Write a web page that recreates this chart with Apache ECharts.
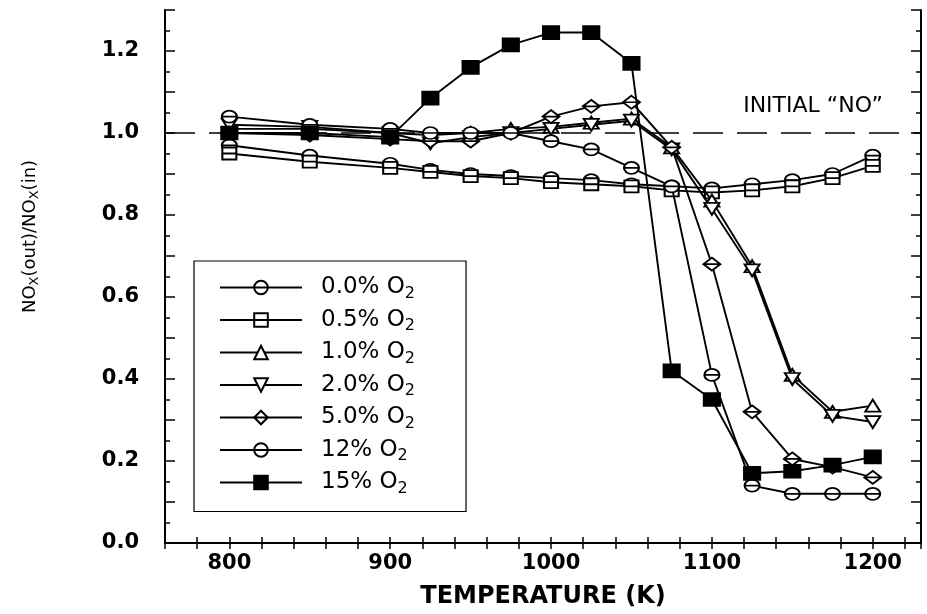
<!DOCTYPE html>
<html><head><meta charset="utf-8">
<script src="https://cdn.jsdelivr.net/npm/echarts@6/dist/echarts.min.js"></script>
<style>html,body{margin:0;padding:0;background:#fff}#c{width:927px;height:614px}</style>
</head><body><div id="c"></div>
<script>
// ---- data ----
const temperatures = [800, 850, 900, 925, 950, 975, 1000, 1025, 1050, 1075, 1100, 1125, 1150, 1175, 1200];
const o2_00 = [0.97, 0.945, 0.925, 0.91, 0.90, 0.895, 0.89, 0.885, 0.875, 0.87, 0.865, 0.875, 0.885, 0.90, 0.945];
const o2_05 = [0.95, 0.93, 0.915, 0.905, 0.895, 0.89, 0.88, 0.875, 0.87, 0.86, 0.855, 0.86, 0.87, 0.89, 0.92];
const o2_10 = [1.01, 1.01, 1.0, 0.995, 1.0, 1.01, 1.015, 1.025, 1.035, 0.965, 0.835, 0.675, 0.41, 0.32, 0.335];
const o2_20 = [1.02, 1.015, 1.0, 0.975, 0.99, 1.0, 1.01, 1.02, 1.03, 0.96, 0.815, 0.665, 0.40, 0.31, 0.295];
const o2_50 = [1.0, 0.995, 0.985, 0.98, 0.98, 1.0, 1.04, 1.065, 1.075, 0.965, 0.68, 0.32, 0.205, 0.185, 0.16];
const o2_12 = [1.04, 1.02, 1.01, 1.0, 1.0, 1.0, 0.98, 0.96, 0.915, 0.87, 0.41, 0.14, 0.12, 0.12, 0.12];
const o2_15 = [1.0, 1.0, 0.99, 1.085, 1.16, 1.215, 1.245, 1.245, 1.17, 0.42, 0.35, 0.17, 0.175, 0.19, 0.21];
const seriesNames = ['0.0% O2', '0.5% O2', '1.0% O2', '2.0% O2', '5.0% O2', '12% O2', '15% O2'];
const xTickLabels = [800, 900, 1000, 1100, 1200];
const yTickLabels = [0.0, 0.2, 0.4, 0.6, 0.8, 1.0, 1.2];
const initialLevel = 1.0;
const initialLabel = 'INITIAL \u201CNO\u201D';

// ---- symbols ----
const SYM_CIRCLE = 'path://M0,10A10,10 0 1,0 20,10A10,10 0 1,0 0,10Z M0,10L20,10';
const SYM_SQUARE = 'path://M0,0H20V20H0Z M0,10H20';
const SYM_DOWN = 'path://M0,0H20L10,20Z';
const SYM_DIAMOND = 'path://M10,0L20,10L10,20L0,10Z M0,10H20';

const specs = [
  {data: o2_00, symbol: SYM_CIRCLE, size: [15, 12], fill: '#fff'},
  {data: o2_05, symbol: SYM_SQUARE, size: [14, 12], fill: '#fff'},
  {data: o2_10, symbol: 'triangle', size: [15, 12], fill: '#fff'},
  {data: o2_20, symbol: SYM_DOWN, size: [15, 12], fill: '#fff'},
  {data: o2_50, symbol: SYM_DIAMOND, size: [17, 13], fill: '#fff'},
  {data: o2_12, symbol: SYM_CIRCLE, size: [15, 12], fill: '#fff'},
  {data: o2_15, symbol: 'rect', size: [16, 13], fill: '#000'}
];

const series = specs.map((s, i) => ({
  name: seriesNames[i],
  type: 'line',
  xAxisIndex: 0, yAxisIndex: 0,
  data: temperatures.map((t, k) => [t, s.data[k]]),
  symbol: s.symbol,
  symbolSize: s.size,
  showAllSymbol: true,
  lineStyle: {color: '#000', width: 1.9},
  itemStyle: {color: s.fill, borderColor: '#000', borderWidth: 1.9},
  z: 2 + i
}));

series[0].markLine = {
  silent: true,
  symbol: ['none', 'none'],
  lineStyle: {color: '#000', width: 1.5, type: [30, 14]},
  label: {
    show: true, formatter: initialLabel, position: 'insideEndTop',
    distance: [38, 16], color: '#000', fontFamily: 'DejaVu Sans', fontSize: 22
  },
  data: [{yAxis: initialLevel}]
};

const tickFont = {fontFamily: 'DejaVu Sans', fontWeight: 'bold', fontSize: 21, color: '#000'};
const axisLine = {show: true, lineStyle: {color: '#000', width: 2}};
const tickStyle = {color: '#000', width: 1.5};

const option = {
  animation: false,
  backgroundColor: '#fff',
  grid: {left: 165, right: 6, top: 10, bottom: 69, containLabel: false},
  legend: {
    orient: 'vertical', left: 194, top: 261,
    padding: [15, 51, 15, 25],
    borderColor: '#000', borderWidth: 1.2, backgroundColor: '#fff',
    itemWidth: 82, itemHeight: 17, itemGap: 7,
    data: seriesNames,
    formatter: n => n.replace(/O2$/, 'O{sub|2}'),
    textStyle: {
      fontFamily: 'DejaVu Sans', fontSize: 23, color: '#000', padding: [0, 0, 0, 14],
      rich: {sub: {fontFamily: 'DejaVu Sans', fontSize: 16, color: '#000', padding: [12, 0, 0, 0]}}
    }
  },
  xAxis: [{
    type: 'value', min: 760, max: 1230, interval: 20, position: 'bottom',
    axisLine: axisLine,
    axisTick: {show: true, inside: true, length: 6, lineStyle: tickStyle},
    axisLabel: Object.assign({margin: 10, formatter: v => xTickLabels.includes(Math.round(v)) ? String(Math.round(v)) : ''}, tickFont),
    splitLine: {show: false},
    name: 'TEMPERATURE (K)', nameLocation: 'middle', nameGap: 42,
    nameTextStyle: {fontFamily: 'DejaVu Sans', fontWeight: 'bold', fontSize: 24, color: '#000'}
  }, {
    type: 'value', min: 760, max: 1230, interval: 20, position: 'top',
    axisLine: axisLine,
    axisTick: {show: true, inside: true, length: 6, lineStyle: tickStyle},
    axisLabel: {show: false}, splitLine: {show: false}
  }],
  yAxis: [{
    type: 'value', min: 0, max: 1.3, interval: 0.1, position: 'left',
    axisLine: axisLine,
    axisTick: {show: true, inside: true, length: 10, lineStyle: tickStyle},
    minorTick: {show: true, splitNumber: 2, length: 5, lineStyle: tickStyle},
    axisLabel: Object.assign({margin: 26, formatter: v => {
      const k = Math.round(v * 10) / 10;
      return yTickLabels.some(t => Math.abs(t - k) < 1e-6) ? k.toFixed(1) : '';
    }}, tickFont),
    splitLine: {show: false},
    name: 'NO{sub|X}(out)/NO{sub|X}(in)', nameLocation: 'middle', nameGap: 124,
    nameTextStyle: {
      fontFamily: 'DejaVu Sans', fontSize: 18, color: '#000', padding: [0, 0, 0, 80],
      rich: {sub: {fontFamily: 'DejaVu Sans', fontSize: 13, color: '#000', padding: [9, 0, 0, 0]}}
    }
  }, {
    type: 'value', min: 0, max: 1.3, interval: 0.1, position: 'right',
    axisLine: axisLine,
    axisTick: {show: true, inside: true, length: 10, lineStyle: tickStyle},
    minorTick: {show: true, splitNumber: 2, length: 5, lineStyle: tickStyle},
    axisLabel: {show: false}, splitLine: {show: false}
  }],
  series: series
};

const chart = echarts.init(document.getElementById('c'), null, {renderer: 'canvas'});
chart.setOption(option);
</script></body></html>
